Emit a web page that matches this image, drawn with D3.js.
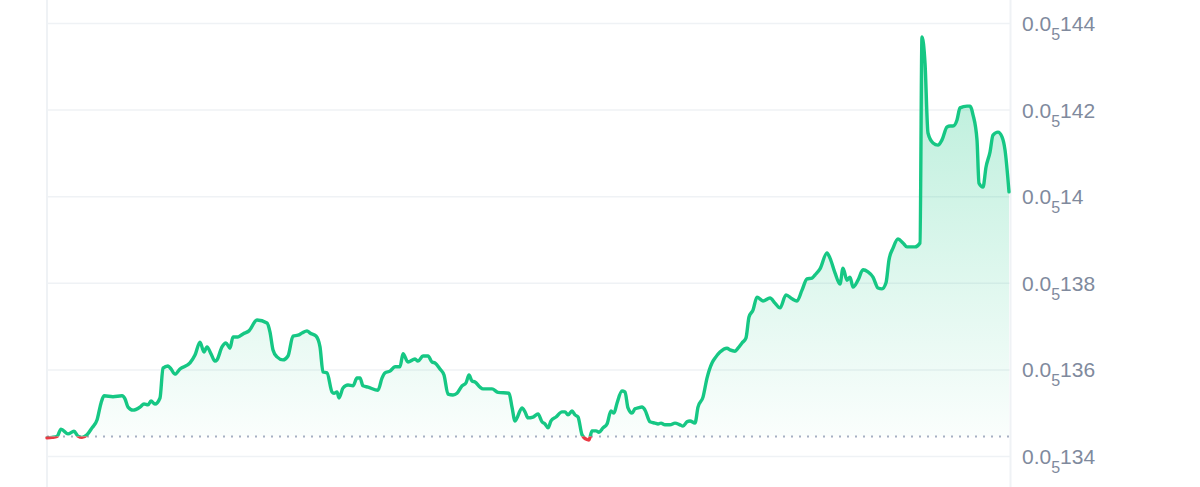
<!DOCTYPE html>
<html>
<head>
<meta charset="utf-8">
<script src="https://cdn.jsdelivr.net/npm/d3@7"></script>
<style>
  html, body { margin: 0; padding: 0; background: #fff; }
  svg { display: block; }
</style>
</head>
<body>
<svg id="chart" width="1200" height="487"></svg>
<script>
// Minutes since start of the 24h window
const minutes = [0,7.5,15,21,31.5,40.5,46.5,52.5,60,67.5,75,81,85.5,99,112.5,117,121.5,129,139.5,145.5,151.5,156,162,169.5,174,181.5,186,192,199.5,214.5,222,229.5,235.5,240,246,252,255,262.5,268.5,274.5,279,286.5,294,303,315,330,334.5,339,345,354,361.5,369,376.5,382.5,390,394.5,403.5,409.5,414,420,427.5,430.5,435,438,444,451.5,459,465,469.5,474,481.5,496.5,502.5,507,514.5,522,529.5,534,541.5,552,556.5,564,571.5,577.5,582,589.5,595.5,601.5,609,615,622.5,628.5,633,637.5,642,649.5,654,667.5,676.5,693,697.5,702,712.5,717,721.5,729,736.5,742.5,747,751.5,756,763.5,772.5,777,781.5,787.5,792,796.5,802.5,808.5,813,817.5,823.5,828,834,840,846,850.5,855,862.5,867,871.5,877.5,882,886.5,892.5,897,904.5,912,916.5,921,927,934.5,942,949.5,954,960,964.5,972,976.5,984,990,997.5,1002,1009.5,1020,1024.5,1032,1036.5,1042.5,1048.5,1053,1059,1065,1074,1084.5,1092,1099.5,1108.5,1117.5,1125,1132.5,1140,1147.5,1152,1159.5,1170,1174.5,1182,1189.5,1194,1200,1204.5,1209,1216.5,1224,1231.5,1239,1246.5,1252.5,1258.5,1263,1269,1276.5,1284,1290,1302,1309.5,1312.5,1317,1321.5,1329,1336.5,1342.5,1350,1354.5,1359,1365,1369.5,1380,1384.5,1389,1395,1398,1404,1408.5,1414.5,1419,1426.5,1432.5,1437,1443];
// Price in units of 1e-8
const prices = [134.42,134.43,134.45,134.62,134.51,134.57,134.46,134.43,134.49,134.65,134.83,135.22,135.39,135.37,135.39,135.32,135.13,135.06,135.13,135.20,135.18,135.27,135.20,135.34,136.03,136.08,136.01,135.89,136.01,136.15,136.33,136.63,136.40,136.52,136.36,136.19,136.22,136.52,136.61,136.49,136.75,136.75,136.82,136.89,137.14,137.07,136.86,136.45,136.29,136.22,136.31,136.77,136.79,136.84,136.89,136.84,136.77,136.52,135.94,135.92,135.48,135.45,135.48,135.34,135.57,135.64,135.62,135.80,135.80,135.62,135.59,135.52,135.80,135.92,135.96,136.06,136.06,136.36,136.17,136.24,136.19,136.31,136.31,136.17,136.15,136.01,135.87,135.43,135.41,135.45,135.62,135.69,135.87,135.73,135.71,135.59,135.55,135.55,135.47,135.45,135.13,134.81,135.11,135.02,134.88,134.90,134.97,134.79,134.74,134.65,134.81,134.90,135.02,135.02,134.95,135.04,134.95,134.90,134.49,134.39,134.37,134.58,134.58,134.55,134.65,134.74,135.04,134.99,135.22,135.50,135.48,135.11,134.99,135.09,135.11,135.13,135.06,134.79,134.76,134.74,134.76,134.72,134.72,134.76,134.72,134.69,134.79,134.81,134.76,135.13,135.36,135.80,136.15,136.26,136.40,136.49,136.45,136.42,136.49,136.61,136.73,137.21,137.37,137.67,137.58,137.65,137.53,137.42,137.72,137.63,137.58,137.83,138.09,138.11,138.18,138.32,138.69,138.57,138.23,137.97,138.34,138.06,138.13,137.90,138.06,138.30,138.25,138.13,137.88,137.86,138.00,138.53,138.80,139.01,138.92,138.83,138.83,138.92,143.68,143.08,141.46,141.23,141.18,141.30,141.60,141.62,141.62,141.76,142.04,142.08,142.08,141.88,141.30,140.30,140.21,140.67,141.02,141.41,141.48,141.37,141.07,140.10];
const openPrice = 134.45;
const tickValues = [134, 136, 138, 140, 142, 144];
const tickPrefix = "0.0";
const tickSub = "5";
const tickRest = ["134", "136", "138", "14", "142", "144"];

const data = minutes.map((m, i) => ({ m, v: prices[i] }));

const W = 1200, H = 487;
const left = 47, right = 1009;
const svg = d3.select("#chart");

const x = d3.scaleLinear().domain([0, 1443]).range([left, right]);
const y = d3.scaleLinear().domain([134, 144]).range([456, 23]);
const yBase = y(openPrice);

const green = "#16c784", red = "#ea3943";

// Gridlines
svg.append("g")
  .attr("transform", `translate(${left},0)`)
  .call(d3.axisLeft(y).tickValues(tickValues).tickSize(-(1010 - left)).tickFormat(""))
  .call(g => g.select(".domain").remove())
  .call(g => g.selectAll("line").attr("stroke", "#eff2f5").attr("stroke-width", 1.5));

// Vertical frame lines
svg.append("line").attr("x1", left).attr("x2", left).attr("y1", 0).attr("y2", H)
  .attr("stroke", "#eff2f5").attr("stroke-width", 2);
svg.append("line").attr("x1", 1010.5).attr("x2", 1010.5).attr("y1", 0).attr("y2", H)
  .attr("stroke", "#eff2f5").attr("stroke-width", 2);

// defs
const defs = svg.append("defs");
const gUp = defs.append("linearGradient").attr("id", "gUp")
  .attr("gradientUnits", "userSpaceOnUse").attr("x1", 0).attr("x2", 0)
  .attr("y1", y(d3.max(prices))).attr("y2", yBase);
gUp.append("stop").attr("offset", "0%").attr("stop-color", green).attr("stop-opacity", 0.32);
gUp.append("stop").attr("offset", "100%").attr("stop-color", green).attr("stop-opacity", 0.02);
const gDn = defs.append("linearGradient").attr("id", "gDn")
  .attr("gradientUnits", "userSpaceOnUse").attr("x1", 0).attr("x2", 0)
  .attr("y1", yBase).attr("y2", y(d3.min(prices)));
gDn.append("stop").attr("offset", "0%").attr("stop-color", red).attr("stop-opacity", 0.02);
gDn.append("stop").attr("offset", "100%").attr("stop-color", red).attr("stop-opacity", 0.25);

defs.append("clipPath").attr("id", "clipUp").append("rect")
  .attr("x", 0).attr("y", 0).attr("width", W).attr("height", yBase);
defs.append("clipPath").attr("id", "clipDn").append("rect")
  .attr("x", 0).attr("y", yBase).attr("width", W).attr("height", H - yBase);

const area = d3.area().x(d => x(d.m)).y0(yBase).y1(d => y(d.v)).curve(d3.curveMonotoneX);
const line = d3.line().x(d => x(d.m)).y(d => y(d.v)).curve(d3.curveMonotoneX);

svg.append("path").datum(data).attr("d", area).attr("fill", "url(#gUp)").attr("clip-path", "url(#clipUp)");
svg.append("path").datum(data).attr("d", area).attr("fill", "url(#gDn)").attr("clip-path", "url(#clipDn)");

// Baseline (open price)
svg.append("line").attr("x1", left).attr("x2", 1010).attr("y1", yBase).attr("y2", yBase)
  .attr("stroke", "#a6b0c3").attr("stroke-width", 2).attr("stroke-dasharray", "2,6");

svg.append("path").datum(data).attr("d", line).attr("fill", "none")
  .attr("stroke", green).attr("stroke-width", 3.4).attr("stroke-linejoin", "round").attr("stroke-linecap", "round")
  .attr("clip-path", "url(#clipUp)");
svg.append("path").datum(data).attr("d", line).attr("fill", "none")
  .attr("stroke", red).attr("stroke-width", 3.4).attr("stroke-linejoin", "round").attr("stroke-linecap", "round")
  .attr("clip-path", "url(#clipDn)");

// Right axis labels
const ax = svg.append("g").attr("transform", "translate(1010,0)")
  .call(d3.axisRight(y).tickValues(tickValues).tickSize(0).tickPadding(12).tickFormat(""))
  .call(g => g.select(".domain").remove());
ax.selectAll(".tick text").each(function(d, i) {
  const t = d3.select(this);
  t.attr("fill", "#808a9d").attr("font-family", "Liberation Sans, Arial, sans-serif")
   .attr("font-size", 21).attr("dy", "0.36em");
  t.append("tspan").text(tickPrefix);
  t.append("tspan").text(tickSub).attr("font-size", 16).attr("dy", 9);
  t.append("tspan").text(tickRest[i]).attr("dy", -9);
});
</script>
</body>
</html>
